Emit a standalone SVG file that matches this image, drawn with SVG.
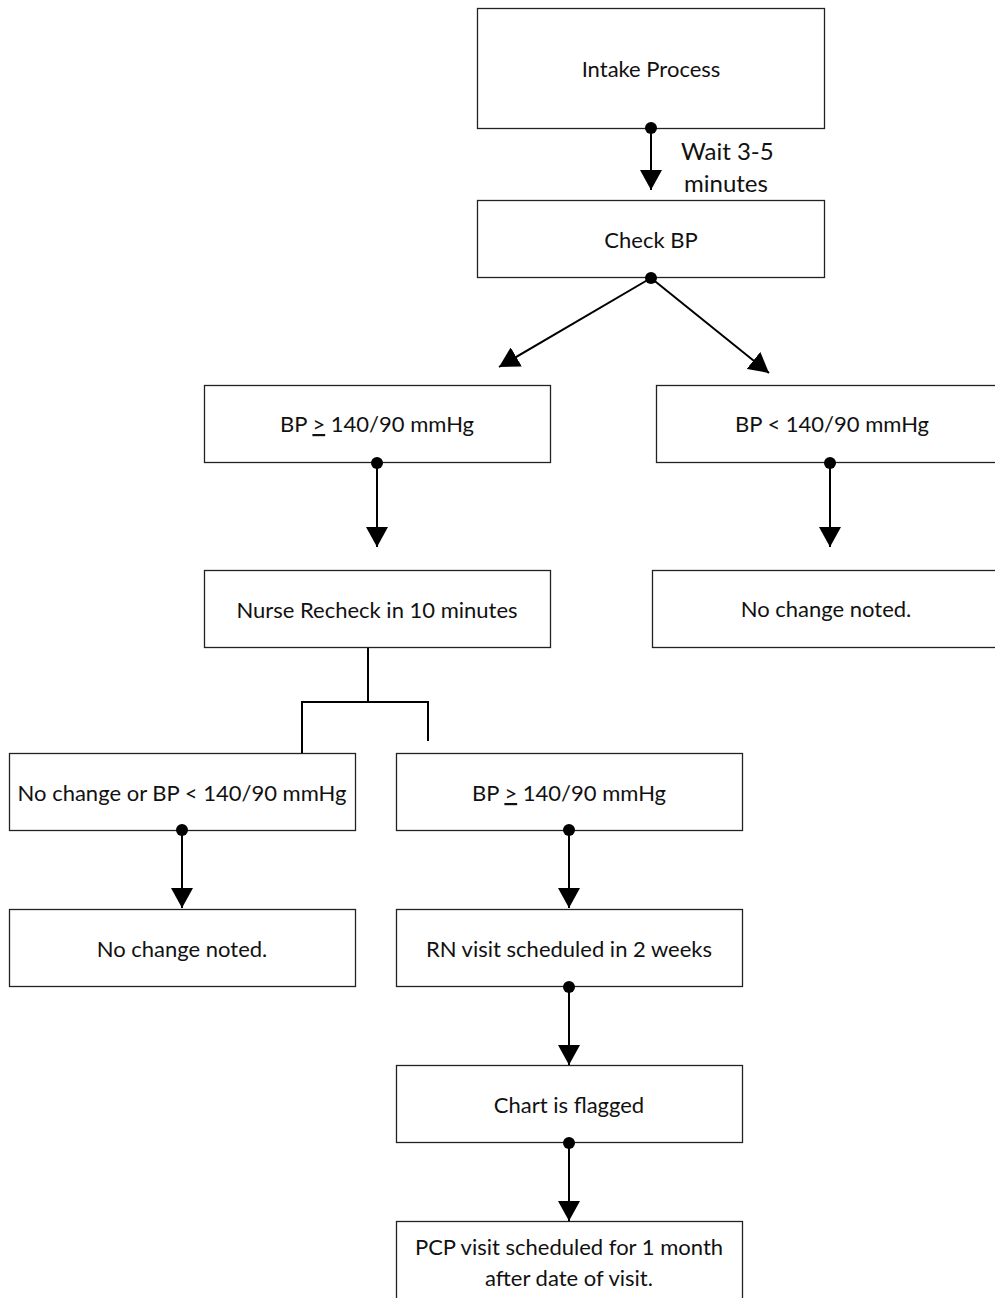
<svg xmlns="http://www.w3.org/2000/svg" width="995" height="1298" viewBox="0 0 995 1298">
<style>
.box{fill:#fff;stroke:#222;stroke-width:1.3}
.t{font-family:Lato,"Open Sans","Liberation Sans",sans-serif;font-size:22px;fill:#111;text-anchor:middle}
.w{font-family:Lato,"Open Sans","Liberation Sans",sans-serif;font-size:24px;fill:#111}
.c{stroke:#000;stroke-width:2;fill:none}
.d{fill:#000}
</style>
<defs>
<marker id="ah" markerUnits="userSpaceOnUse" markerWidth="22" markerHeight="22" viewBox="0 0 22 22" refX="20" refY="11" orient="auto">
<path d="M0,0 L20,11 L0,22 Z" fill="#000"/>
</marker>
</defs>
<rect width="995" height="1298" fill="#fff"/>
<g id="n-intake"><rect class="box" x="477.5" y="8.5" width="347" height="120"/><text class="t" x="651" y="77">Intake Process</text></g>
<g id="n-check"><rect class="box" x="477.5" y="200.5" width="347" height="77"/><text class="t" x="651" y="248">Check BP</text></g>
<g id="n-high1"><rect class="box" x="204.5" y="385.5" width="346" height="77"/><text class="t" x="377" y="432">BP <tspan text-decoration="underline">&gt;</tspan> 140/90 mmHg</text></g>
<g id="n-low1"><rect class="box" x="656.5" y="385.5" width="345" height="77"/><text class="t" x="832" y="432">BP &lt; 140/90 mmHg</text></g>
<g id="n-recheck"><rect class="box" x="204.5" y="570.5" width="346" height="77"/><text class="t" x="377" y="618">Nurse Recheck in 10 minutes</text></g>
<g id="n-nochange1"><rect class="box" x="652.5" y="570.5" width="349" height="77"/><text class="t" x="826" y="617">No change noted.</text></g>
<g id="n-low2"><rect class="box" x="9.5" y="753.5" width="346" height="77"/><text class="t" x="182" y="801">No change or BP &lt; 140/90 mmHg</text></g>
<g id="n-high2"><rect class="box" x="396.5" y="753.5" width="346" height="77"/><text class="t" x="569" y="801">BP <tspan text-decoration="underline">&gt;</tspan> 140/90 mmHg</text></g>
<g id="n-nochange2"><rect class="box" x="9.5" y="909.5" width="346" height="77"/><text class="t" x="182" y="957">No change noted.</text></g>
<g id="n-rn"><rect class="box" x="396.5" y="909.5" width="346" height="77"/><text class="t" x="569" y="957">RN visit scheduled in 2 weeks</text></g>
<g id="n-flag"><rect class="box" x="396.5" y="1065.5" width="346" height="77"/><text class="t" x="569" y="1113">Chart is flagged</text></g>
<g id="n-pcp"><rect class="box" x="396.5" y="1221.5" width="346" height="90"/><text class="t" x="569" y="1255">PCP visit scheduled for 1 month</text><text class="t" x="569" y="1286">after date of visit.</text></g>
<g id="connectors">
<line class="c" x1="651" y1="128" x2="651" y2="190" marker-end="url(#ah)"/>
<circle class="d" cx="651" cy="128" r="6"/>
<text class="w" x="681" y="160">Wait 3-5</text>
<text class="w" x="684" y="192">minutes</text>
<line class="c" x1="651" y1="278" x2="499" y2="367" marker-end="url(#ah)"/>
<line class="c" x1="651" y1="278" x2="769" y2="373" marker-end="url(#ah)"/>
<circle class="d" cx="651" cy="278" r="6"/>
<line class="c" x1="377" y1="463" x2="377" y2="547" marker-end="url(#ah)"/>
<circle class="d" cx="377" cy="463" r="6"/>
<line class="c" x1="830" y1="463" x2="830" y2="547" marker-end="url(#ah)"/>
<circle class="d" cx="830" cy="463" r="6"/>
<polyline class="c" points="368,648 368,702"/>
<polyline class="c" points="302,753 302,702 428,702 428,741"/>
<line class="c" x1="182" y1="830" x2="182" y2="908" marker-end="url(#ah)"/>
<circle class="d" cx="182" cy="830" r="6"/>
<line class="c" x1="569" y1="830" x2="569" y2="908" marker-end="url(#ah)"/>
<circle class="d" cx="569" cy="830" r="6"/>
<line class="c" x1="569" y1="987" x2="569" y2="1065" marker-end="url(#ah)"/>
<circle class="d" cx="569" cy="987" r="6"/>
<line class="c" x1="569" y1="1143" x2="569" y2="1221" marker-end="url(#ah)"/>
<circle class="d" cx="569" cy="1143" r="6"/>
</g>
</svg>
